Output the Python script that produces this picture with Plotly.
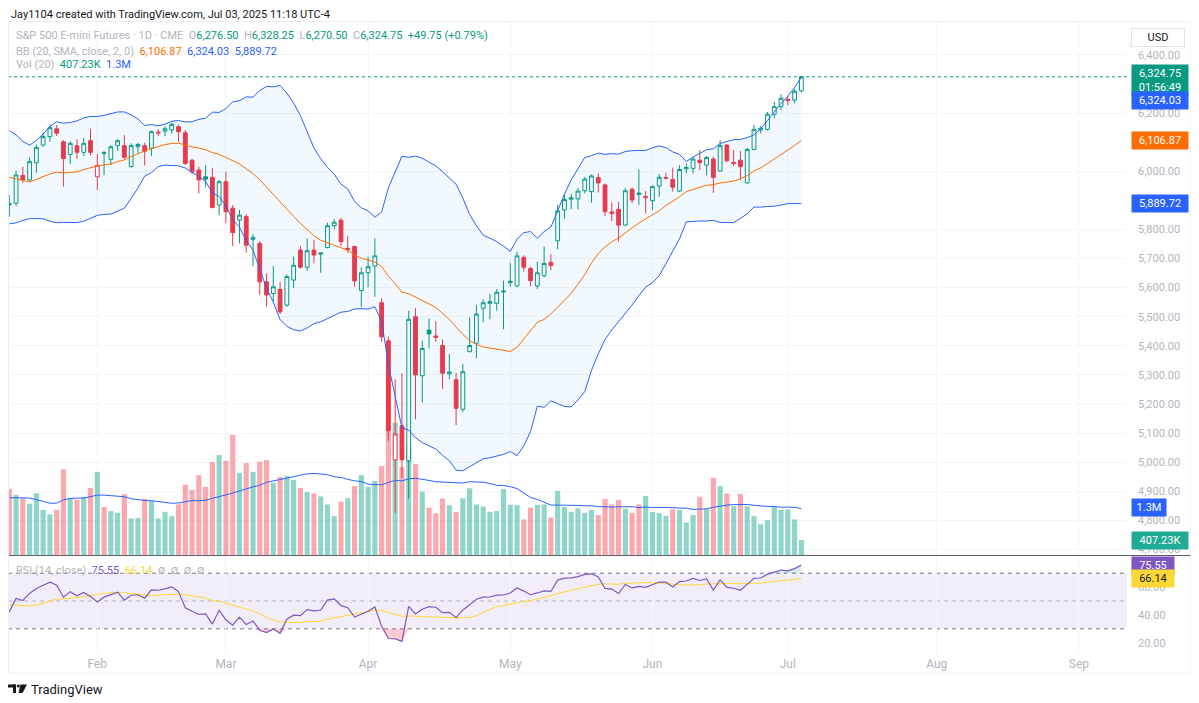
import numpy as np
import pandas as pd
import plotly.graph_objects as go

# ES1! daily bars, Jan 14 - Jul 3 2025
first_day = "2025-01-14"
axis_end = "2025-09-30"
holidays = ["2025-01-20", "2025-02-17", "2025-04-18", "2025-05-26",
            "2025-06-19", "2025-07-04", "2025-09-01"]

opens = [5889, 5890, 5986, 5970, 6029, 6090, 6119, 6146, 6101, 6058,
         6088, 6065, 6105, 5981, 6064, 6041, 6088, 6088, 6016, 6084,
         6088, 6079, 6131, 6138, 6142, 6153, 6132, 6038, 6004, 5981,
         5979, 5884, 5964, 5873, 5832, 5844, 5766, 5752, 5620, 5580,
         5594, 5540, 5626, 5729, 5670, 5729, 5715, 5738, 5813, 5832,
         5731, 5741, 5590, 5651, 5674, 5548, 5417, 5008, 5125, 5005,
         5500, 5297, 5454, 5434, 5401, 5304, 5283, 5182, 5380, 5409,
         5529, 5546, 5546, 5585, 5617, 5606, 5704, 5666, 5606, 5641,
         5687, 5761, 5867, 5904, 5905, 5933, 5930, 5978, 5953, 5860,
         5869, 5815, 5938, 5925, 5909, 5899, 5949, 5975, 5972, 5932,
         6008, 6010, 6038, 6021, 6042, 6001, 6090, 6026, 6038, 5960,
         6075, 6142, 6144, 6196, 6222, 6243, 6245, 6276.5]
highs = [5918, 6002, 6016, 6048, 6092, 6134, 6161, 6159, 6107, 6103,
         6110, 6114, 6145, 6059, 6070, 6090, 6110, 6124, 6096, 6098,
         6098, 6140, 6144, 6155, 6167, 6160, 6142, 6042, 6016, 6021,
         6012, 5970, 5998, 5884, 5867, 5853, 5784, 5760, 5649, 5674,
         5620, 5645, 5706, 5743, 5769, 5764, 5722, 5823, 5836, 5840,
         5777, 5745, 5670, 5706, 5769, 5563, 5431, 5285, 5306, 5520,
         5529, 5418, 5494, 5485, 5422, 5372, 5308, 5338, 5497, 5540,
         5560, 5578, 5595, 5624, 5684, 5723, 5711, 5672, 5689, 5741,
         5715, 5884, 5921, 5922, 5943, 5980, 5989, 5993, 5958, 5893,
         5895, 5943, 5945, 6006, 5932, 5952, 5990, 5995, 6013, 6021,
         6027, 6048, 6073, 6052, 6050, 6107, 6093, 6073, 6070, 6080,
         6159, 6155, 6204, 6239, 6265, 6258, 6282, 6328.25]
lows = [5843, 5880, 5960, 5966, 5995, 6084, 6101, 6121, 5947, 6025,
        6043, 6053, 6055, 5935, 5987, 6021, 6070, 6041, 6012, 6062,
        6020, 6052, 6121, 6121, 6130, 6101, 6022, 5990, 5924, 5945,
        5872, 5849, 5821, 5743, 5752, 5720, 5674, 5575, 5534, 5552,
        5509, 5534, 5598, 5665, 5658, 5684, 5651, 5735, 5801, 5743,
        5720, 5603, 5534, 5601, 5569, 5414, 5074, 4826, 4946, 4873,
        5148, 5205, 5391, 5414, 5252, 5285, 5128, 5173, 5378, 5357,
        5481, 5491, 5521, 5457, 5603, 5601, 5655, 5605, 5595, 5635,
        5660, 5732, 5836, 5869, 5869, 5924, 5892, 5927, 5846, 5829,
        5758, 5812, 5890, 5884, 5855, 5867, 5912, 5972, 5930, 5928,
        5993, 5993, 6004, 5987, 5926, 5999, 6031, 6018, 5970, 5957,
        6072, 6130, 6140, 6182, 6210, 6227, 6233, 6270.5]
closes = [5885, 5987, 5971, 6033, 6082, 6119, 6150, 6131, 6044, 6096,
          6065, 6096, 6065, 6021, 6062, 6084, 6105, 6048, 6088, 6092,
          6069, 6136, 6134, 6146, 6161, 6136, 6027, 5998, 5970, 5973,
          5876, 5964, 5861, 5789, 5849, 5746, 5773, 5620, 5575, 5603,
          5517, 5638, 5677, 5670, 5727, 5712, 5719, 5813, 5825, 5758,
          5735, 5623, 5651, 5672, 5709, 5431, 5108, 5097, 5008, 5491,
          5300, 5391, 5441, 5429, 5306, 5310, 5185, 5311, 5401, 5509,
          5548, 5552, 5584, 5588, 5622, 5709, 5670, 5624, 5651, 5683,
          5676, 5864, 5903, 5909, 5932, 5973, 5984, 5960, 5861, 5855,
          5815, 5933, 5901, 5921, 5913, 5947, 5979, 5978, 5945, 6006,
          6013, 6042, 6030, 6047, 5979, 6088, 6036, 6030, 6016, 6075,
          6144, 6148, 6196, 6222, 6251, 6247, 6275, 6324.75]
# volume in millions of contracts
volumes = [1.81, 1.64, 1.55, 1.40, 1.69, 1.23, 1.11, 1.23, 2.34, 1.55,
           1.51, 1.58, 1.83, 2.27, 1.31, 1.20, 1.15, 1.66, 1.00, 1.01,
           1.53, 1.49, 1.00, 1.18, 1.06, 1.38, 1.92, 1.78, 2.18, 1.86,
           2.54, 2.73, 2.57, 3.28, 2.24, 2.51, 2.27, 2.55, 2.59, 1.97,
           2.13, 2.16, 2.05, 1.83, 1.72, 1.68, 1.60, 1.38, 1.06, 1.46,
           1.55, 1.88, 2.18, 1.86, 2.02, 2.43, 3.52, 3.61, 2.40, 3.04,
           2.48, 1.73, 1.29, 1.14, 1.54, 1.36, 1.17, 1.55, 1.82, 1.38,
           1.32, 1.18, 1.20, 1.80, 1.37, 1.36, 0.97, 1.29, 1.37, 1.38,
           1.02, 1.75, 1.31, 1.18, 1.27, 1.15, 1.23, 1.09, 1.53, 1.38,
           1.50, 1.26, 1.15, 1.38, 1.61, 1.17, 1.14, 1.07, 1.25, 1.23,
           0.89, 1.09, 1.59, 1.26, 2.11, 1.88, 1.68, 1.33, 1.67, 1.33,
           1.06, 0.84, 0.95, 1.32, 1.23, 1.24, 0.97, 0.407]

# bars before the visible range, only used to warm up BB / RSI / vol MA
hist_closes = [5950, 5965, 5965, 5995, 6015, 6030, 6060, 6040, 6075, 6090,
               6095, 6135, 6120, 6140, 6100, 6085, 6135, 6100, 6095, 6120,
               6095, 5915, 5910, 5975, 6015, 6085, 6080, 6010, 5945, 5925,
               5915, 5985, 6025, 5935, 5945, 5855, 5872]
hist_volumes = [1.85, 1.45, 1.50, 2.45, 2.30, 2.10, 1.20, 0.55, 0.75, 1.35,
                1.50, 1.10, 1.45, 1.30, 1.55, 1.75, 1.60, 2.10, 1.65]

# legend / price-scale values as shown on the chart
bb_legend = [6106.87, 6324.03, 5889.72]
vol_legend = ["407.23K", "1.3M"]
vol_legend_values = [0.40723, 1.3]
rsi_legend = [75.55, 66.14]
countdown = "01:56:49"

month_labels = ["Feb", "Mar", "Apr", "May", "Jun", "Jul", "Aug", "Sep"]
# 5,900 / 6,100 / 6,300 and 80 sit under the value boxes on the chart
price_ticks = [4700, 4800, 4900, 5000, 5100, 5200, 5300, 5400, 5500,
               5600, 5700, 5800, 6000, 6200, 6400]
rsi_ticks = [20, 40, 60]

TEAL = "#089981"
RED = "#F23645"
BLUE = "#2962FF"
ORANGE = "#FF6D00"
PURPLE = "#7E57C2"
YELLOW = "#FDD835"
GRAY = "#787B86"
LIGHT = "#B2B5BE"
INK = "#131722"
FONT = "Roboto, Inter, sans-serif"

# page is 1199x703, the browser puts the figure 8px in from the top-left
PAGE = 8
W, H = 1199 - PAGE, 703 - PAGE
X0, X1, Y0, Y1 = 8, 1127, 22, 655   # plot area in page pixels


def px(x):
    return (x - X0) / (X1 - X0)


def py(y):
    return (Y1 - y) / (Y1 - Y0)


n = len(closes)
idx = np.arange(n)
days = pd.bdate_range(first_day, axis_end, freq="C", holidays=holidays)
month_pos = [int(np.argmax(days.month == m)) for m in range(2, 10)]

# indicators
all_close = pd.Series(hist_closes + closes, dtype=float)
basis = all_close.rolling(20).mean()
dev = all_close.rolling(20).std(ddof=0)
bb_mid = basis.values[-n:]
bb_up = (basis + 2 * dev).values[-n:]
bb_lo = (basis - 2 * dev).values[-n:]

delta = all_close.diff()
avg_gain = delta.clip(lower=0).ewm(alpha=1 / 14, adjust=False).mean()
avg_loss = (-delta).clip(lower=0).ewm(alpha=1 / 14, adjust=False).mean()
rsi_all = 100 - 100 / (1 + avg_gain / avg_loss)
rsi = rsi_all.values[-n:]
rsi_ma = rsi_all.rolling(14).mean().values[-n:]

vol_ma = pd.Series(hist_volumes + volumes).rolling(20).mean().values[-n:]
prev_close = all_close.shift(1).values[-n:]

o, h, l, c = map(np.array, (opens, highs, lows, closes))
up = c >= prev_close
vol_colors = ["rgba(34,171,148,0.5)" if c[i] >= o[i] else "rgba(247,82,95,0.5)"
              for i in range(n)]

fig = go.Figure()

# volume (base axis so it stays behind the candles)
fig.add_trace(go.Bar(x=idx, y=volumes, marker=dict(color=vol_colors, line=dict(width=0)),
                     width=0.76, yaxis="y", hoverinfo="skip"))
fig.add_trace(go.Scatter(x=idx, y=vol_ma, mode="lines", line=dict(color=BLUE, width=1),
                         yaxis="y", hoverinfo="skip"))

# Bollinger bands
fig.add_trace(go.Scatter(x=idx, y=bb_up, mode="lines", line=dict(color=BLUE, width=1),
                         yaxis="y3", hoverinfo="skip"))
fig.add_trace(go.Scatter(x=idx, y=bb_lo, mode="lines", line=dict(color=BLUE, width=1),
                         fill="tonexty", fillcolor="rgba(33,150,243,0.06)",
                         yaxis="y3", hoverinfo="skip"))
fig.add_trace(go.Scatter(x=idx, y=bb_mid, mode="lines", line=dict(color=ORANGE, width=1),
                         yaxis="y3", hoverinfo="skip"))

# hollow candles: colour from close vs previous close, fill from close vs open
for mask, col in ((up, TEAL), (~up, RED)):
    fig.add_trace(go.Candlestick(
        x=idx[mask], open=o[mask], high=h[mask], low=l[mask], close=c[mask],
        increasing=dict(line=dict(color=col, width=1), fillcolor="white"),
        decreasing=dict(line=dict(color=col, width=1), fillcolor=col),
        whiskerwidth=0, yaxis="y3", hoverinfo="skip"))

# RSI pane
fig.add_trace(go.Scatter(x=idx, y=np.full(n, 70.0), mode="lines", line=dict(width=0),
                         yaxis="y2", hoverinfo="skip"))
fig.add_trace(go.Scatter(x=idx, y=np.maximum(rsi, 70), mode="lines", line=dict(width=0),
                         fill="tonexty", fillcolor="rgba(8,153,129,0.18)",
                         yaxis="y2", hoverinfo="skip"))
fig.add_trace(go.Scatter(x=idx, y=np.full(n, 30.0), mode="lines", line=dict(width=0),
                         yaxis="y2", hoverinfo="skip"))
fig.add_trace(go.Scatter(x=idx, y=np.minimum(rsi, 30), mode="lines", line=dict(width=0),
                         fill="tonexty", fillcolor="rgba(242,54,69,0.25)",
                         yaxis="y2", hoverinfo="skip"))
fig.add_trace(go.Scatter(x=idx, y=rsi_ma, mode="lines", line=dict(color=YELLOW, width=1),
                         yaxis="y2", hoverinfo="skip"))
fig.add_trace(go.Scatter(x=idx, y=rsi, mode="lines", line=dict(color=PURPLE, width=1.2),
                         yaxis="y2", hoverinfo="skip"))

shapes = [
    # rsi band and levels
    dict(type="rect", xref="paper", x0=0, x1=1, yref="y2", y0=30, y1=70,
         fillcolor="rgba(126,87,194,0.1)", line=dict(width=0), layer="below"),
    dict(type="line", xref="paper", x0=0, x1=1, yref="y2", y0=70, y1=70,
         line=dict(color=GRAY, width=1, dash="4px,4px"), layer="below"),
    dict(type="line", xref="paper", x0=0, x1=1, yref="y2", y0=50, y1=50,
         line=dict(color="rgba(120,123,134,0.5)", width=1, dash="4px,4px"), layer="below"),
    dict(type="line", xref="paper", x0=0, x1=1, yref="y2", y0=30, y1=30,
         line=dict(color=GRAY, width=1, dash="4px,4px"), layer="below"),
    # last price line
    dict(type="line", xref="paper", x0=0, x1=1, yref="y3", y0=closes[-1], y1=closes[-1],
         line=dict(color=TEAL, width=1, dash="dot")),
    # pane separator
    dict(type="line", xref="paper", x0=px(8), x1=px(1199), yref="paper",
         y0=py(555.5), y1=py(555.5), line=dict(color="#5D606B", width=1.2)),
    # chart frame
    dict(type="rect", xref="paper", x0=px(8.5), x1=px(1191), yref="paper",
         y0=py(21.5), y1=py(673), line=dict(color="#ECEEF2", width=1)),
    # TradingView logo
    dict(type="rect", xref="paper", yref="paper", x0=px(8), x1=px(16), y0=py(684.5), y1=py(687.5),
         fillcolor=INK, line=dict(width=0)),
    dict(type="rect", xref="paper", yref="paper", x0=px(13), x1=px(16), y0=py(684.5), y1=py(693),
         fillcolor=INK, line=dict(width=0)),
    dict(type="circle", xref="paper", yref="paper", x0=px(16.8), x1=px(19.8), y0=py(684.5), y1=py(687.5),
         fillcolor=INK, line=dict(width=0)),
    dict(type="path", xref="paper", yref="paper",
         path=f"M {px(20.5)} {py(684.5)} L {px(27)} {py(684.5)} L {px(22.5)} {py(693)} L {px(18.5)} {py(693)} Z",
         fillcolor=INK, line=dict(width=0)),
]


def span(text, color):
    return f'<span style="color:{color}">{text}</span>'


chg = closes[-1] - closes[-2]
legend1 = ("S&P 500 E-mini Futures · 1D · CME  "
           + "O" + span(f"{opens[-1]:,.2f}", TEAL) + "  H" + span(f"{highs[-1]:,.2f}", TEAL)
           + "  L" + span(f"{lows[-1]:,.2f}", TEAL) + "  C" + span(f"{closes[-1]:,.2f}", TEAL)
           + "  " + span(f"{chg:+.2f} ({chg / closes[-2] * 100:+.2f}%)", TEAL))
legend2 = ("BB (20, SMA, close, 2, 0)  " + span(f"{bb_legend[0]:,.2f}", ORANGE) + "  "
           + span(f"{bb_legend[1]:,.2f}", BLUE) + "  " + span(f"{bb_legend[2]:,.2f}", BLUE))
legend3 = "Vol (20)  " + span(vol_legend[0], TEAL) + "  " + span(vol_legend[1], BLUE)
legend4 = ("RSI (14, close)  " + span(f"{rsi_legend[0]:.2f}", PURPLE) + "  "
           + span(f"{rsi_legend[1]:.2f}", YELLOW) + "  ∅  ∅  ∅  ∅")

annotations = [
    dict(text="Jay1104 created with TradingView.com, Jul 03, 2025 11:18 UTC-4",
         x=px(9), y=py(14.5), font=dict(size=11, color=INK)),
    dict(text=legend1, x=px(14), y=py(36), font=dict(size=11, color=LIGHT)),
    dict(text=legend2, x=px(14), y=py(51), font=dict(size=11, color=LIGHT)),
    dict(text=legend3, x=px(14), y=py(65), font=dict(size=11, color=LIGHT)),
    dict(text=legend4, x=px(14), y=py(570), font=dict(size=11, color=LIGHT)),
    dict(text="TradingView", x=px(29), y=py(689), font=dict(size=13, color=INK)),
]
for a in annotations:
    a.update(xref="paper", yref="paper", xanchor="left", yanchor="middle", showarrow=False)

box = dict(xref="paper", x=px(1131), xanchor="left", yanchor="middle", showarrow=False,
           borderpad=2, width=52, align="center")
annotations += [
    dict(box, text="USD", yref="paper", y=py(37), bgcolor="white", bordercolor="#E0E3EB",
         font=dict(size=11, color=INK), width=48),
    dict(box, text=f"{closes[-1]:,.2f}<br>{countdown}", yref="y3", y=closes[-1], yshift=-4,
         bgcolor=TEAL, font=dict(size=11, color="white")),
    dict(box, text=f"{bb_legend[1]:,.2f}", yref="y3", y=bb_legend[1], yshift=-24,
         bgcolor=BLUE, font=dict(size=11, color="white")),
    dict(box, text=f"{bb_legend[0]:,.2f}", yref="y3", y=bb_legend[0],
         bgcolor=ORANGE, font=dict(size=11, color="white")),
    dict(box, text=f"{bb_legend[2]:,.2f}", yref="y3", y=bb_legend[2],
         bgcolor=BLUE, font=dict(size=11, color="white")),
    dict(box, text=vol_legend[1], yref="y", y=vol_legend_values[1],
         bgcolor=BLUE, font=dict(size=11, color="white"), width=30),
    dict(box, text=vol_legend[0], yref="y", y=vol_legend_values[0],
         bgcolor="#22AB94", font=dict(size=11, color="white")),
    dict(box, text=f"{rsi_legend[0]:.2f}", yref="y2", y=rsi_legend[0],
         bgcolor=PURPLE, font=dict(size=11, color="white"), width=38),
    dict(box, text=f"{rsi_legend[1]:.2f}", yref="y2", y=rsi_legend[1],
         bgcolor=YELLOW, font=dict(size=11, color=INK), width=38),
]

fig.update_layout(
    width=W, height=H,
    margin=dict(l=X0 - PAGE, r=1199 - X1, t=Y0 - PAGE, b=703 - Y1),
    paper_bgcolor="white", plot_bgcolor="white", showlegend=False,
    font=dict(family=FONT, color=LIGHT), boxgap=0.2,
    xaxis=dict(domain=[0, 1], range=[-0.19, 165.1], anchor="y2",
               tickvals=month_pos, ticktext=month_labels, ticks="",
               tickfont=dict(size=12, color=LIGHT), showgrid=True, gridcolor="#F4F5F7",
               zeroline=False, showline=False, rangeslider=dict(visible=False)),
    yaxis=dict(domain=[py(555), 1], range=[0, 14.55], visible=False,
               showgrid=False, zeroline=False),
    yaxis3=dict(overlaying="y", side="right", range=[4681, 6513], tickvals=price_ticks,
                tickformat=",.2f", ticks="", ticklabelstandoff=10,
                tickfont=dict(size=11, color=LIGHT), showgrid=True, gridcolor="#F4F5F7",
                zeroline=False, showline=False),
    yaxis2=dict(domain=[0, py(556)], side="right", anchor="x", range=[11.2, 82.4],
                tickvals=rsi_ticks, tickformat=".2f", ticks="", ticklabelstandoff=10,
                tickfont=dict(size=11, color=LIGHT), showgrid=False, zeroline=False,
                showline=False),
    shapes=shapes, annotations=annotations,
)

fig.write_html("out.html")
